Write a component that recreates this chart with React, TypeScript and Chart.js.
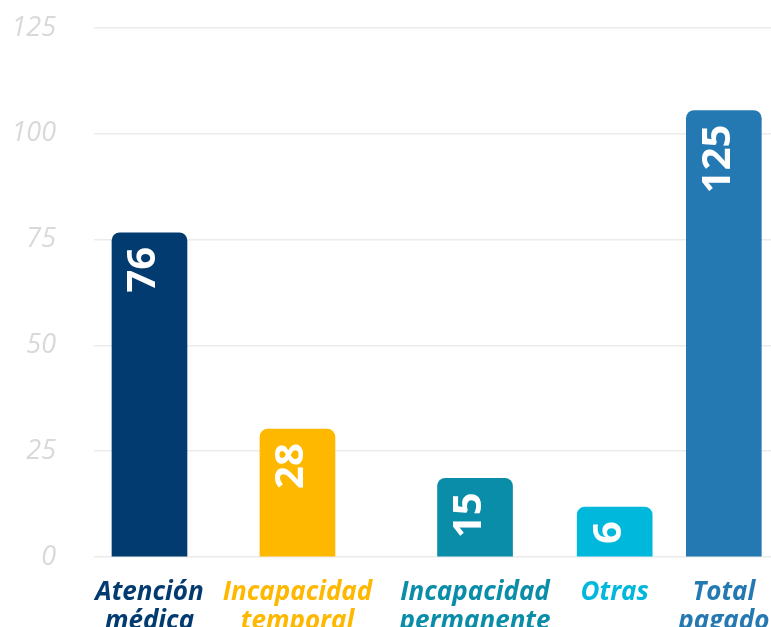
import React, { useEffect, useRef } from "react";
import { Chart, registerables } from "chart.js";

Chart.register(...registerables);

const categoryLines: string[][] = [
  ["Atención", "médica"],
  ["Incapacidad", "temporal"],
  ["Incapacidad", "permanente"],
  ["Otras"],
  ["Total", "pagado"],
];
const barValues = [76.6, 30.2, 18.6, 11.8, 105.5];
const valueLabels = ["76", "28", "15", "6", "125"];
const barPositions = [0.6, 2.2, 4.12, 5.63, 6.81];
const barColors = ["#023B70", "#FFB800", "#0A8DA8", "#00B8DB", "#2479B3"];
const yTickValues = [0, 25, 50, 75, 100, 125];

const valueLabelPlugin = {
  id: "valueLabels",
  afterDatasetsDraw(chart: any) {
    const ctx = chart.ctx;
    const meta = chart.getDatasetMeta(0);
    ctx.save();
    ctx.font = 'bold 40px "Open Sans"';
    ctx.fillStyle = "#ffffff";
    meta.data.forEach((bar: any, i: number) => {
      ctx.save();
      ctx.translate(bar.x + 6, bar.y + 14);
      ctx.rotate(-Math.PI / 2);
      ctx.textAlign = "right";
      ctx.textBaseline = "alphabetic";
      ctx.fillText(valueLabels[i], 0, 0);
      ctx.restore();
    });
    ctx.restore();
  },
};

export default function App() {
  const ref = useRef<HTMLCanvasElement | null>(null);
  useEffect(() => {
    if (!ref.current) return;
    const chart = new Chart(ref.current, {
      type: "bar",
      data: {
        datasets: [
          {
            data: barValues.map((v, i) => ({ x: barPositions[i], y: v })),
            backgroundColor: barColors,
            borderRadius: 8,
            borderSkipped: "start",
            barThickness: 75,
          } as any,
        ],
      },
      options: {
        animation: false,
        responsive: false,
        layout: { padding: { top: 28, left: 0, right: 0, bottom: 0 } },
        plugins: { legend: { display: false }, tooltip: { enabled: false } },
        scales: {
          x: {
            type: "linear",
            offset: false,
            min: 0,
            max: 7.85,
            grid: { display: false, drawTicks: false, offset: false },
            border: { display: false },
            afterBuildTicks: (scale: any) => {
              scale.ticks = barPositions.map((v) => ({ value: v }));
            },
            afterFit: (scale: any) => {
              scale.height = 103;
              scale.paddingTop = 0;
              scale.paddingBottom = 0;
            },
            ticks: {
              autoSkip: false,
              maxRotation: 0,
              padding: 22,
              callback: (_v: any, i: number) => categoryLines[i],
              color: (c: any) => barColors[c.index] || "#000",
              font: {
                family: '"Open Sans"',
                size: 26,
                weight: "bold",
                style: "italic",
                lineHeight: 1.08,
              },
            },
          },
          y: {
            min: 0,
            max: 125,
            grid: { color: "#ebebeb", lineWidth: 1.5, drawTicks: false },
            border: { display: false },
            afterBuildTicks: (scale: any) => {
              scale.ticks = yTickValues.map((v) => ({ value: v }));
            },
            afterFit: (scale: any) => {
              scale.width = 94;
              scale.paddingTop = 0;
              scale.paddingBottom = 0;
            },
            ticks: {
              padding: 38,
              color: "#d9d9d9",
              font: { family: '"Open Sans"', size: 27, style: "italic" },
            },
          },
        },
      },
      plugins: [valueLabelPlugin],
    } as any);
    return () => chart.destroy();
  }, []);
  return (
    <div style={{ position: "fixed", left: 0, top: 0, width: 820, height: 660 }}>
      <canvas ref={ref} width={820} height={660} style={{ display: "block" }} />
    </div>
  );
}
